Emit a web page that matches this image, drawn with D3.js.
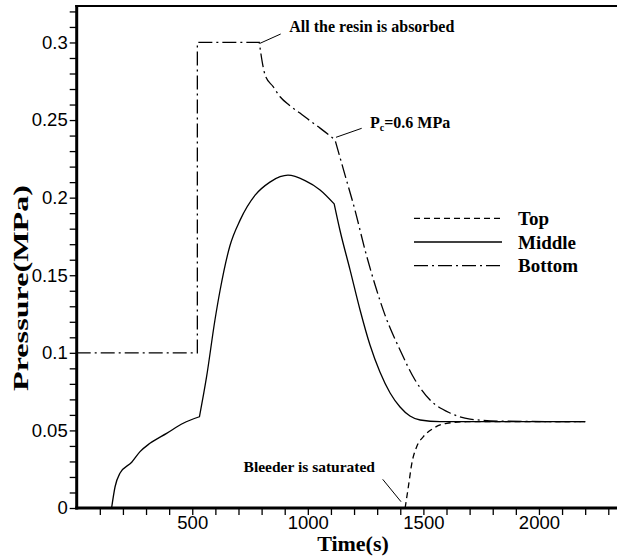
<!DOCTYPE html>
<html><head><meta charset="utf-8">
<script src="https://cdn.jsdelivr.net/npm/d3@7"></script>
<style>body{margin:0;background:#fff}svg{display:block}</style>
</head><body>
<svg id="c" width="617" height="556"></svg>
<script>
// ---- data ----
const topTime  = [1421, 1435, 1450, 1471, 1500, 1543, 1601, 1688, 1800, 2000, 2200];
const topP     = [0, 0.0137, 0.0288, 0.0395, 0.046, 0.0513, 0.0546, 0.0556, 0.0557, 0.0556, 0.0556];

const midTime  = [151, 166, 187, 238, 274, 317, 389, 461, 531, 562, 598, 620, 663, 707, 772, 836, 880, 914, 988, 1053, 1114, 1139, 1183, 1226, 1269, 1312, 1356, 1399, 1442, 1486, 1572, 1700, 2200];
const midP     = [0, 0.0137, 0.0224, 0.0295, 0.0363, 0.0417, 0.0481, 0.0546, 0.0588, 0.0846, 0.121, 0.140, 0.169, 0.1855, 0.2016, 0.21, 0.2135, 0.2145, 0.211, 0.205, 0.196, 0.179, 0.1533, 0.1276, 0.105, 0.0876, 0.0741, 0.0651, 0.0593, 0.0567, 0.0556, 0.0556, 0.0556];

const botTime  = [0, 522, 522, 790, 807, 815, 850, 880, 920, 966, 1010, 1053, 1090, 1118, 1161, 1204, 1248, 1291, 1334, 1399, 1464, 1529, 1615, 1702, 1832, 2200];
const botP     = [0.1, 0.1, 0.3, 0.3, 0.284, 0.279, 0.2715, 0.265, 0.2595, 0.2545, 0.2495, 0.2448, 0.2405, 0.2371, 0.2145, 0.192, 0.166, 0.1437, 0.1243, 0.1018, 0.0825, 0.0696, 0.0612, 0.0573, 0.056, 0.0556];

// indices where a curve has a sharp corner
const topCorners = [];
const midCorners = [8, 20];
const botCorners = [1, 2, 3, 13];

const seriesNames = ["Top", "Middle", "Bottom"];
const xTickValues = d3.range(100, 2400, 100);
const yTickValues = d3.range(0, 0.325, 0.01);

// ---- chart ----
const svg = d3.select("#c");
const x = d3.scaleLinear().domain([0, 2400]).range([76.7, 631.4]);
const y = d3.scaleLinear().domain([0, 0.3235]).range([508, 6]);

const dashes = {Top: "6,4", Middle: null, Bottom: "14,4,2,4"};

const smooth = d3.line().x(d => x(d[0])).y(d => y(d[1])).curve(d3.curveMonotoneX);
function pathWithCorners(pts, corners) {
  const cuts = [0, ...corners, pts.length - 1];
  let out = "";
  for (let i = 0; i < cuts.length - 1; i++) {
    const seg = pts.slice(cuts[i], cuts[i + 1] + 1);
    if (seg.length < 2) continue;
    let s = smooth(seg);
    if (out) s = "L" + s.slice(1);
    out += s;
  }
  return out;
}
const series = [
  {name: "Top", pts: topTime.map((t, i) => [t, topP[i]]), corners: topCorners},
  {name: "Middle", pts: midTime.map((t, i) => [t, midP[i]]), corners: midCorners},
  {name: "Bottom", pts: botTime.map((t, i) => [t, botP[i]]), corners: botCorners}
];
svg.append("g").selectAll("path").data(series).join("path")
  .attr("d", d => pathWithCorners(d.pts, d.corners))
  .attr("fill", "none").attr("stroke", "#000").attr("stroke-width", 1.3)
  .attr("stroke-dasharray", d => dashes[d.name]);

// axes
const xAxis = d3.axisBottom(x).tickValues(xTickValues).tickSize(7).tickSizeOuter(0).tickPadding(1)
  .tickFormat(v => v % 500 === 0 ? String(v) : "");
const gx = svg.append("g").attr("transform", "translate(0,508)").call(xAxis);
const yAxis = d3.axisLeft(y).tickValues(yTickValues).tickSize(7).tickSizeOuter(0).tickPadding(2)
  .tickFormat(v => { const k = Math.round(v * 100); return k % 5 === 0 ? String(+(k / 100).toFixed(2)) : ""; });
const gy = svg.append("g").attr("transform", "translate(76.7,0)").call(yAxis);
[gx, gy].forEach(g => {
  g.select(".domain").remove();
  g.selectAll(".tick line").attr("stroke", "#000").attr("stroke-width", 1.3);
  g.selectAll(".tick text").attr("fill", "#000")
    .style("font-family", "'Liberation Sans', Arial, sans-serif").style("font-size", "18.5px");
});

// frame
svg.append("line").attr("x1", 75.2).attr("x2", 617).attr("y1", 508).attr("y2", 508).attr("stroke", "#000").attr("stroke-width", 3);
svg.append("line").attr("x1", 76.7).attr("x2", 76.7).attr("y1", 5).attr("y2", 509.5).attr("stroke", "#000").attr("stroke-width", 3);
svg.append("line").attr("x1", 75.2).attr("x2", 617).attr("y1", 6).attr("y2", 6).attr("stroke", "#000").attr("stroke-width", 2.2);

// axis titles
const serif = "'Liberation Serif', 'Times New Roman', serif";
svg.append("text").attr("x", 353).attr("y", 551).attr("text-anchor", "middle")
  .style("font-family", serif).style("font-weight", "bold").style("font-size", "22px").text("Time(s)");
svg.append("text").attr("transform", "translate(28,288) rotate(-90)").attr("text-anchor", "middle")
  .attr("textLength", 206).attr("lengthAdjust", "spacingAndGlyphs")
  .style("font-family", serif).style("font-weight", "bold").style("font-size", "22px").text("Pressure(MPa)");

// legend
const lg = svg.append("g");
seriesNames.forEach((n, i) => {
  const yy = 218.3 + i * 23.7;
  lg.append("line").attr("x1", 414).attr("x2", 502).attr("y1", yy).attr("y2", yy)
    .attr("stroke", "#000").attr("stroke-width", 1.3).attr("stroke-dasharray", dashes[n]);
  lg.append("text").attr("x", 518).attr("y", yy + 6.5)
    .style("font-family", serif).style("font-weight", "bold").style("font-size", "19px").text(n);
});

// annotations
const ann = svg.append("g").style("font-family", serif).style("font-weight", "bold").style("font-size", "16px");
ann.append("line").attr("x1", 260).attr("y1", 43.3).attr("x2", 280.7).attr("y2", 34).attr("stroke", "#000").attr("stroke-width", 1);
ann.append("text").attr("x", 289.3).attr("y", 31.7).text("All the resin is absorbed");
ann.append("line").attr("x1", 336).attr("y1", 137.3).attr("x2", 361.7).attr("y2", 128.3).attr("stroke", "#000").attr("stroke-width", 1);
const pc = ann.append("text").attr("x", 370).attr("y", 127.7);
pc.append("tspan").text("P");
pc.append("tspan").attr("dy", 3).style("font-size", "10px").text("c");
pc.append("tspan").attr("dy", -3).text("=0.6 MPa");
ann.append("line").attr("x1", 382.7).attr("y1", 479.3).attr("x2", 401).attr("y2", 501.7).attr("stroke", "#000").attr("stroke-width", 1);
ann.append("text").attr("x", 375).attr("y", 471.7).attr("text-anchor", "end").style("font-size", "15.5px").text("Bleeder is saturated");
</script>
</body></html>
